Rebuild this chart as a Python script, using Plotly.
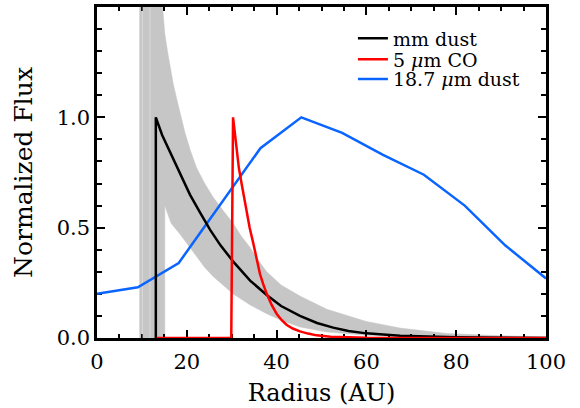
import plotly.graph_objects as go

# ---- data ----
# gray model envelope (upper and lower bounds), radius in AU
env_upper_x = [9.5, 9.5, 14.2, 14.7, 15.1, 15.7, 16.3, 17.0, 17.8, 18.7, 19.6, 20.8, 22.2, 24.0, 25.8, 28.0, 30.3, 32.2, 34.1, 36.0, 37.8, 41.0, 45.2, 51.2, 60.0, 67.5, 78.0, 90.0, 100.0]
env_upper_y = [0.0, 1.6, 1.6, 1.48, 1.38, 1.30, 1.23, 1.15, 1.08, 1.00, 0.93, 0.85, 0.77, 0.70, 0.64, 0.58, 0.52, 0.46, 0.41, 0.35, 0.30, 0.24, 0.19, 0.13, 0.075, 0.045, 0.02, 0.01, 0.005]
env_lower_x = [100.0, 70.0, 60.0, 51.2, 45.2, 41.0, 37.8, 34.1, 30.3, 28.0, 25.8, 24.0, 22.2, 20.3, 18.5, 16.5, 15.1, 15.1]
env_lower_y = [0.0, 0.005, 0.012, 0.027, 0.05, 0.08, 0.11, 0.15, 0.20, 0.24, 0.28, 0.32, 0.37, 0.42, 0.47, 0.52, 0.60, 0.0]
gap_x = [10.1, 11.8]

mm_x = [13.1, 13.1, 14.5, 16.3, 17.4, 19.0, 20.7, 22.9, 25.2, 27.5, 30.4, 34.1, 37.8, 41.0, 45.2, 49.0, 52.6, 56.0, 60.0, 67.5, 80.0, 100.0]
mm_y = [0.0, 1.0, 0.92, 0.84, 0.79, 0.72, 0.65, 0.57, 0.49, 0.42, 0.345, 0.26, 0.195, 0.145, 0.10, 0.068, 0.047, 0.032, 0.021, 0.010, 0.003, 0.0]

co_x = [13.3, 29.9, 30.3, 30.7, 31.1, 31.6, 32.2, 32.7, 33.3, 34.0, 34.8, 35.5, 36.3, 37.0, 37.8, 38.9, 40.0, 41.1, 42.2, 43.6, 45.2, 47.0, 48.9, 52.0, 55.0, 60.0, 100.0]
co_y = [0.0, 0.0, 1.0, 0.93, 0.85, 0.77, 0.70, 0.64, 0.58, 0.50, 0.43, 0.36, 0.29, 0.245, 0.20, 0.15, 0.11, 0.082, 0.06, 0.043, 0.03, 0.02, 0.012, 0.006, 0.003, 0.001, 0.0]

d18_x = [0.0, 9.1, 18.2, 27.3, 36.4, 45.5, 54.6, 63.7, 72.8, 81.9, 90.9, 100.0]
d18_y = [0.20, 0.23, 0.34, 0.60, 0.86, 1.0, 0.93, 0.83, 0.74, 0.60, 0.42, 0.27]

x_ticks = [0, 20, 40, 60, 80, 100]
y_ticks = [0.0, 0.5, 1.0, 1.5]

FONT = "DejaVu Serif"
GRAY = "#c6c6c6"

fig = go.Figure()

fig.add_trace(go.Scatter(
    x=env_upper_x + env_lower_x, y=env_upper_y + env_lower_y,
    mode="lines", fill="toself", fillcolor=GRAY, zorder=-2,
    line=dict(width=0.5, color=GRAY), showlegend=False, hoverinfo="skip"))

for gx in gap_x:
    fig.add_trace(go.Scatter(
        x=[gx, gx], y=[0, 1.6], mode="lines", zorder=-1,
        line=dict(width=0.6, color="rgba(255,255,255,0.6)"),
        showlegend=False, hoverinfo="skip"))

fig.add_trace(go.Scatter(
    x=mm_x, y=mm_y, mode="lines", name="mm dust", zorder=1, legend="legend",
    line=dict(color="black", width=2.5)))
fig.add_trace(go.Scatter(
    x=co_x, y=co_y, mode="lines", name="5 <i>μ</i>m CO", zorder=2, legend="legend2",
    line=dict(color="#ff0000", width=2.5)))
fig.add_trace(go.Scatter(
    x=d18_x, y=d18_y, mode="lines", name="18.7 <i>μ</i>m dust", zorder=0, legend="legend3",
    line=dict(color="#0a64ff", width=2.5)))

axis_common = dict(
    showline=True, linewidth=2.5, linecolor="black", mirror="allticks",
    ticks="inside", tickwidth=2, tickcolor="black", showgrid=False,
    zeroline=False, automargin=False,
    tickfont=dict(family=FONT, size=21, color="black"),
)

fig.update_xaxes(
    range=[0, 100], tickvals=x_ticks, ticklen=8, ticklabelstandoff=3,
    minor=dict(dtick=5, ticklen=4, ticks="inside", tickwidth=2, tickcolor="black", showgrid=False),
    title=dict(text="Radius (AU)", font=dict(family=FONT, size=24, color="black"), standoff=12),
    **axis_common)
fig.update_yaxes(
    range=[0, 1.5], tickvals=y_ticks, tickformat=".1f", ticklen=8,
    minor=dict(dtick=0.1, ticklen=5, ticks="inside", tickwidth=2, tickcolor="black", showgrid=False),
    title=dict(text="Normalized Flux", font=dict(family=FONT, size=25, color="black"), standoff=17),
    **axis_common)

leg_common = dict(x=0.57, xanchor="left", yanchor="middle", bgcolor="rgba(0,0,0,0)",
                  font=dict(family=FONT, size=19, color="black"), itemwidth=30)
fig.update_layout(
    width=580, height=408,
    margin=dict(l=97, r=34, t=7, b=70),
    paper_bgcolor="white", plot_bgcolor="white",
    legend=dict(y=0.905, **leg_common),
    legend2=dict(y=0.842, **leg_common),
    legend3=dict(y=0.782, **leg_common),
    showlegend=True,
)

fig.write_html("out.html", post_script="document.body.style.margin='0';",
               config={"displayModeBar": False})
